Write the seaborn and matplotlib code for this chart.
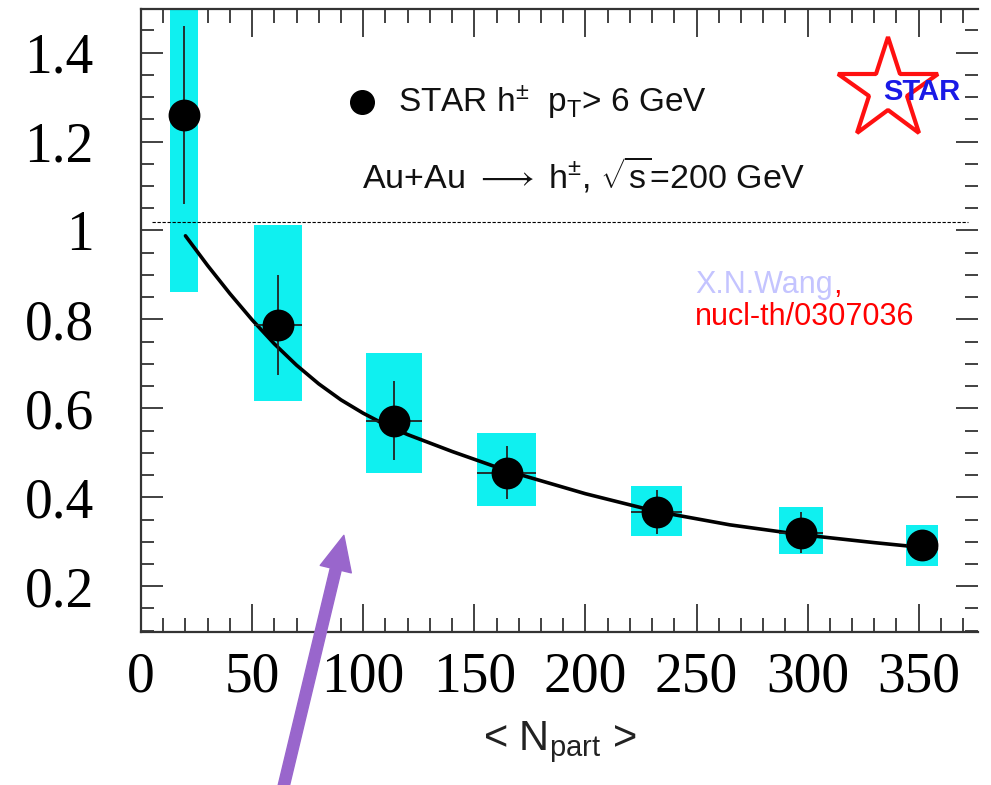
import numpy as np
import matplotlib
matplotlib.use("Agg")
import matplotlib.pyplot as plt
import seaborn as sns
from matplotlib.ticker import FixedLocator, MultipleLocator, FuncFormatter
from matplotlib.patches import FancyArrowPatch

# STAR charged hadron suppression, pT > 6 GeV, vs centrality
npart = [19.5, 61.5, 114.0, 164.5, 232.0, 297.0, 351.5]
raa = [1.26, 0.788, 0.572, 0.455, 0.367, 0.320, 0.293]
stat_err = [0.20, 0.112, 0.089, 0.060, 0.050, 0.046, 0.030]
sys_low = [0.861, 0.616, 0.455, 0.380, 0.313, 0.272, 0.246]
sys_high = [1.66, 1.013, 0.725, 0.545, 0.425, 0.377, 0.337]
npart_halfwidth = [6.3, 10.8, 12.6, 13.2, 11.4, 10.0, 7.1]

# X.N. Wang model curve
model_npart = [20, 30, 40, 50, 60, 70, 80, 90, 100, 110, 120, 140, 165,
               200, 232, 265, 297, 330, 358]
model_raa = [0.988, 0.921, 0.858, 0.799, 0.745, 0.697, 0.655, 0.619, 0.589,
             0.563, 0.541, 0.503, 0.459, 0.408, 0.368, 0.338, 0.316, 0.298,
             0.284]

reference_level = 1.02

x_ticks = [0, 50, 100, 150, 200, 250, 300, 350]
y_ticks = [0.2, 0.4, 0.6, 0.8, 1.0, 1.2, 1.4]

sns.set_theme(style="white")
plt.rcParams["font.family"] = ["Liberation Sans", "DejaVu Sans"]
plt.rcParams["mathtext.fontset"] = "custom"
plt.rcParams["mathtext.rm"] = "Liberation Sans"
plt.rcParams["mathtext.it"] = "Liberation Sans:italic"
plt.rcParams["mathtext.bf"] = "Liberation Sans:bold"

fig = plt.figure(figsize=(9.91, 7.85), dpi=100)
fig.patch.set_facecolor("white")
ax = fig.add_axes([0.1423, 0.1949, 0.8446, 0.7936])
ax.set_facecolor("white")

# systematic boxes
ax.bar(npart, height=np.subtract(sys_high, sys_low), bottom=sys_low,
       width=2 * np.array(npart_halfwidth), color="#0FF0F0", linewidth=0,
       zorder=1)

# unity reference line
ax.plot([0.013, 0.988], [reference_level, reference_level],
        transform=ax.get_yaxis_transform(), color="black", lw=0.8,
        ls=(0, (3, 1.5)), zorder=3)

# model curve
sns.lineplot(x=model_npart, y=model_raa, ax=ax, color="black", lw=2.6,
             zorder=4)

# statistical errors
ax.errorbar(npart, raa, yerr=stat_err, xerr=npart_halfwidth, fmt="none",
            ecolor="#222222", elinewidth=1.3, capsize=0, zorder=5)
sns.scatterplot(x=npart, y=raa, ax=ax, s=450, color="black",
                edgecolor="black", zorder=6)

ax.set_xlim(0, 376.7)
ax.set_ylim(0.097, 1.498)

ax.xaxis.set_major_locator(FixedLocator(x_ticks))
ax.xaxis.set_minor_locator(MultipleLocator(10))
ax.yaxis.set_major_locator(FixedLocator(y_ticks))
ax.yaxis.set_minor_locator(MultipleLocator(0.05))
ax.yaxis.set_major_formatter(FuncFormatter(lambda v, p: f"{v:g}"))

for side in ["left", "bottom", "top"]:
    ax.spines[side].set_visible(True)
    ax.spines[side].set_color("#333333")
    ax.spines[side].set_linewidth(1.6)
ax.spines["right"].set_visible(False)

ax.tick_params(which="both", direction="in", top=True, right=True,
               bottom=True, left=True, color="#333333", width=1.3)
ax.tick_params(axis="x", which="major", length=20, pad=14)
ax.tick_params(axis="x", which="minor", length=10)
ax.tick_params(axis="y", which="major", length=16, pad=34)
ax.tick_params(axis="y", which="minor", length=9.5)
ax.tick_params(which="major", labelsize=40, labelcolor="black",
               labelfontfamily="Liberation Serif")

ax.set_xlabel(r"< N$_{\mathregular{part}}$ >", fontsize=30, color="#222222")
ax.xaxis.set_label_coords(0.5, -0.14)
ax.set_ylabel("")

# legend
ax.plot([0.264], [0.851], "o", ms=17, color="black",
        transform=ax.transAxes, clip_on=False)
ax.text(0.307, 0.835,
        r"STAR h$^{\pm}$  $\mathregular{p_{T}}$> 6 GeV",
        transform=ax.transAxes, fontsize=24, color="#111111",
        ha="left", va="baseline")
ax.text(0.264, 0.7127,
        r"Au+Au $\longrightarrow$ h$^{\pm}$, $\mathregular{\sqrt{s}}$=200 GeV",
        transform=ax.transAxes, fontsize=24.5, color="#111111",
        ha="left", va="baseline")

# STAR logo
ax.plot([0.8925], [0.8700], marker="*", ms=76, mfc="white", mec="#FF1010",
        mew=3, transform=ax.transAxes, clip_on=False, zorder=7)
ax.text(0.8865, 0.854, "STAR", transform=ax.transAxes, fontsize=21,
        fontweight="bold", color="#1A1AE6", ha="left", va="baseline",
        zorder=8)

# model reference
author = ax.text(0.662, 0.544, "X.N.Wang", transform=ax.transAxes,
                 fontsize=22, color="#C4C4FF", ha="left", va="baseline")
ax.annotate(",", xy=(1, 0), xycoords=author, fontsize=22, color="red",
            ha="left", va="bottom")
ax.text(0.662, 0.4928, "nucl-th/0307036", transform=ax.transAxes,
        fontsize=22, color="red", ha="left", va="baseline")

# pointer arrow
arrow = FancyArrowPatch(posA=(0.2846, -0.01), posB=(0.347, 0.318),
                        transform=fig.transFigure,
                        arrowstyle="simple,head_length=2.5,head_width=2.3,tail_width=0.8",
                        mutation_scale=10, color="#9966CC", shrinkA=0,
                        shrinkB=0, zorder=10)
fig.add_artist(arrow)

fig.savefig("out.png", dpi=100, facecolor="white")
